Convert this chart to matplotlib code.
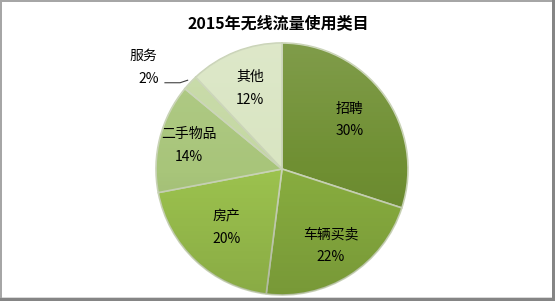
import numpy as np
import matplotlib
matplotlib.use("Agg")
import matplotlib.pyplot as plt
from matplotlib.patches import Rectangle, Circle

plt.rcParams['font.family'] = ['Noto Sans CJK SC', 'DejaVu Sans']

# data
categories = ['招聘', '车辆买卖', '房产', '二手物品', '服务', '其他']
shares = [30, 22, 20, 14, 2, 12]
colors = ['#6f8f32', '#88ad3f', '#9cc24e', '#a8c57a', '#c4d8a2', '#d9e5c2']
title = '2015年无线流量使用类目'

fig = plt.figure(figsize=(5.55, 3.01), dpi=100)
W, H = 555, 301
cx, cy, r = 282, 169, 126
ax = fig.add_axes([(cx - r) / W, (H - cy - r) / H, 2 * r / W, 2 * r / H])

wedges, _ = ax.pie(shares, colors=colors, startangle=90, counterclock=False,
                   radius=1, wedgeprops=dict(edgecolor='#c9d3b6', linewidth=1.2))
ax.set_xlim(-1, 1)
ax.set_ylim(-1, 1)
ax.set_aspect('equal')
ax.axis('off')

# soft shading over the pie: lighter at top, a bit darker at the bottom
g = np.linspace(1, -1, 256)[:, None] * np.ones((1, 256))
rgba = np.zeros((256, 256, 4))
rgba[..., :3] = np.where(g[..., None] > 0, 1.0, 0.0)
rgba[..., 3] = np.abs(g) * 0.12
im = ax.imshow(rgba, extent=(-1, 1, -1, 1), zorder=3, origin='upper')
im.set_clip_path(Circle((0, 0), 1, transform=ax.transData))

# label distance per slice (fraction of radius)
dist = [0.66, 0.72, 0.64, 0.76, 1.0, 0.69]
for w, name, v, d in zip(wedges, categories, shares, dist):
    mid = np.deg2rad((w.theta1 + w.theta2) / 2)
    x, y = d * np.cos(mid), d * np.sin(mid)
    if v < 5:
        # small slice: label outside with a leader line to the edge
        ax.text(x - 0.37, y + 0.21, name, ha='center', va='center', fontsize=10, zorder=5)
        ax.text(x - 0.33, y + 0.03, f'{v}%', ha='center', va='center', fontsize=10, zorder=5)
        ax.plot([x - 0.2, x - 0.08, x - 0.02], [y + 0.0, y + 0.0, y + 0.02],
                color='#404040', lw=0.8, clip_on=False, zorder=5)
    else:
        ax.text(x, y + 0.09, name, ha='center', va='center', fontsize=10, zorder=5)
        ax.text(x, y - 0.09, f'{v}%', ha='center', va='center', fontsize=10, zorder=5)

fig.text(278 / W, 1 - 23 / H, title, ha='center', va='center',
         fontsize=11.5, fontweight='bold')

# frame: thin grey on left/top, darker shadow on right/bottom
fig.add_artist(Rectangle((0, 0), 2 / W, 1, transform=fig.transFigure, color='#a6a6a6', lw=0))
fig.add_artist(Rectangle((0, 1 - 2 / H), 1, 2 / H, transform=fig.transFigure, color='#a6a6a6', lw=0))
fig.add_artist(Rectangle((1 - 3 / W, 0), 3 / W, 1, transform=fig.transFigure, color='#858585', lw=0))
fig.add_artist(Rectangle((0, 0), 1, 3 / H, transform=fig.transFigure, color='#858585', lw=0))
fig.add_artist(Rectangle((2 / W, 3 / H), 1 - 5 / W, 1 / H, transform=fig.transFigure, color='#d9d9d9', lw=0))

fig.savefig('out.png', dpi=100)
